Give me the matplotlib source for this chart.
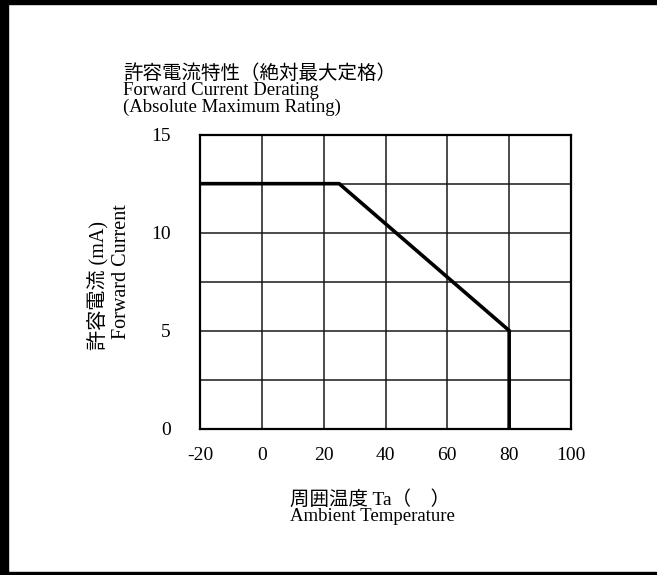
import matplotlib
matplotlib.use("Agg")
import matplotlib.pyplot as plt
from matplotlib.patches import Rectangle

# Derating curve: ambient temperature (deg C) vs max forward current (mA)
temp = [-20, 25, 80, 80]
current = [12.5, 12.5, 5, 0]

x_ticks = [-20, 0, 20, 40, 60, 80, 100]
y_ticks = [0, 5, 10, 15]
y_grid = [0, 2.5, 5, 7.5, 10, 12.5, 15]

MIX = ['Liberation Serif', 'Noto Sans CJK JP']
CJK = ['Noto Sans CJK JP', 'DejaVu Sans']

W, H = 657, 575
fig = plt.figure(figsize=(W / 100, H / 100), dpi=100)
fig.patch.set_facecolor('white')

# page frame (top, left, bottom rules)
fig.patches.append(Rectangle((0, 1 - 4 / H), 1, 4 / H, transform=fig.transFigure,
                             color='black', zorder=0))
fig.patches.append(Rectangle((0, 0), 8 / W, 1, transform=fig.transFigure,
                             color='black', zorder=0))
fig.patches.append(Rectangle((0, 1 / H), 1, 2 / H, transform=fig.transFigure,
                             color='black', zorder=0))

ax = fig.add_axes([200 / W, 1 - 428.5 / H, 371 / W, 293.8 / H])
ax.set_xlim(-20, 100)
ax.set_ylim(0, 15)

for xv in x_ticks:
    ax.axvline(xv, color='#1a1a1a', lw=1.1, zorder=1)
for yv in y_grid:
    ax.axhline(yv, color='#1a1a1a', lw=1.1, zorder=1)

ax.plot(temp, current, color='black', lw=2.6, solid_joinstyle='miter', zorder=3)

ax.set_xticks(x_ticks)
ax.set_yticks(y_ticks)
ax.set_xticklabels([str(v) for v in x_ticks], fontfamily='Liberation Serif', fontsize=14)
ax.set_yticklabels([str(v) for v in y_ticks], fontfamily='Liberation Serif', fontsize=14)
ax.tick_params(axis='both', length=0)
ax.tick_params(axis='x', pad=13)
ax.tick_params(axis='y', pad=21)
for s in ax.spines.values():
    s.set_linewidth(1.6)
    s.set_color('black')

# title block
fig.text(123 / W, 1 - 73 / H, '許容電流特性（絶対最大定格）', family=CJK, fontsize=14,
         va='center', ha='left')
fig.text(123 / W, 1 - 90.5 / H, 'Forward Current Derating', family='Liberation Serif',
         fontsize=13.5, va='center', ha='left')
fig.text(123 / W, 1 - 107 / H, '(Absolute Maximum Rating)', family='Liberation Serif',
         fontsize=13.5, va='center', ha='left')

# y axis labels
fig.text(99 / W, 1 - 285 / H, '許容電流 (mA)', family=MIX, fontsize=14.5,
         rotation=90, va='center', ha='center')
fig.text(121 / W, 1 - 272 / H, 'Forward Current', family='Liberation Serif', fontsize=14.5,
         rotation=90, va='center', ha='center')

# x axis labels
fig.text(290 / W, 1 - 499 / H, '周囲温度 Ta（　）', family=MIX, fontsize=14,
         va='center', ha='left')
fig.text(290 / W, 1 - 516.5 / H, 'Ambient Temperature', family='Liberation Serif',
         fontsize=13.5, va='center', ha='left')

fig.savefig('out.png', dpi=100, facecolor='white')
